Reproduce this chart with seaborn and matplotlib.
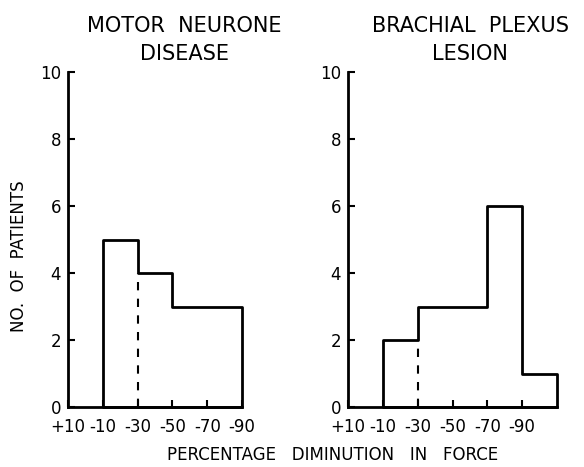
import numpy as np
import pandas as pd
import matplotlib
matplotlib.use("Agg")
import matplotlib.pyplot as plt
import seaborn as sns

sns.set_style("ticks")
plt.rcParams["font.family"] = ["DejaVu Sans"]
plt.rcParams.update({"text.color": "black", "axes.edgecolor": "black",
                     "xtick.color": "black", "ytick.color": "black",
                     "axes.labelcolor": "black"})

# percentage change in force, bins run from -10 downwards
mnd_edges = [-90, -70, -50, -30, -10]
mnd_counts = [3, 3, 4, 5]          # -70..-90, -50..-70, -30..-50, -10..-30

bpl_edges = [-110, -90, -70, -50, -30, -10]
bpl_counts = [1, 6, 3, 3, 2]       # -90..-110, -70..-90, -50..-70, -30..-50, -10..-30

tick_vals = [10, -10, -30, -50, -70, -90]
tick_labels = ["+10", "-10", "-30", "-50", "-70", "-90"]
cutoff = -30

fig = plt.figure(figsize=(5.84, 4.67), dpi=100)
ax1 = fig.add_axes([68 / 584, 1 - 407 / 467, 174 / 584, 335 / 467])
ax2 = fig.add_axes([348 / 584, 1 - 407 / 467, 209 / 584, 335 / 467])


def draw(ax, edges, counts, xmin):
    centers = [(edges[i] + edges[i + 1]) / 2 for i in range(len(counts))]
    df = pd.DataFrame({"x": centers, "n": counts})
    sns.histplot(data=df, x="x", weights="n", bins=edges, element="step",
                 fill=True, color="black", facecolor="none", edgecolor="black",
                 linewidth=2, ax=ax)
    ax.collections[-1].set_clip_on(False)
    # dashed marker at -30 up to the lower neighbouring bar
    i = edges.index(cutoff)
    top = min(counts[i - 1], counts[i])
    ax.vlines(cutoff, 0, top, colors="black", linestyles=(0, (4, 4)), linewidth=1.5)
    ax.set_xlim(10, xmin)
    ax.set_ylim(0, 10)
    ax.set_xticks(tick_vals)
    ax.set_xticklabels(tick_labels)
    ax.set_yticks([0, 2, 4, 6, 8, 10])
    ax.tick_params(direction="in", length=5, width=1.5, labelsize=12)
    ax.tick_params(axis="y", pad=5)
    ax.tick_params(axis="x", pad=8)
    ax.set_xlabel("")
    ax.set_ylabel("")
    sns.despine(ax=ax)
    for s in ["left", "bottom"]:
        ax.spines[s].set_linewidth(2)


draw(ax1, mnd_edges, mnd_counts, -90)
draw(ax2, bpl_edges, bpl_counts, -110)

fig.text(184 / 584, 1 - 40 / 467, "MOTOR  NEURONE\nDISEASE", ha="center",
         va="center", fontsize=15, linespacing=1.55)
fig.text(470 / 584, 1 - 40 / 467, "BRACHIAL  PLEXUS\nLESION", ha="center",
         va="center", fontsize=15, linespacing=1.55)
fig.text(19 / 584, 1 - 256 / 467, "NO.  OF  PATIENTS", rotation=90,
         ha="center", va="center", fontsize=12)
fig.text(333 / 584, 1 - 455 / 467, "PERCENTAGE   DIMINUTION   IN   FORCE",
         ha="center", va="center", fontsize=12)

fig.savefig("out.png", dpi=100)
